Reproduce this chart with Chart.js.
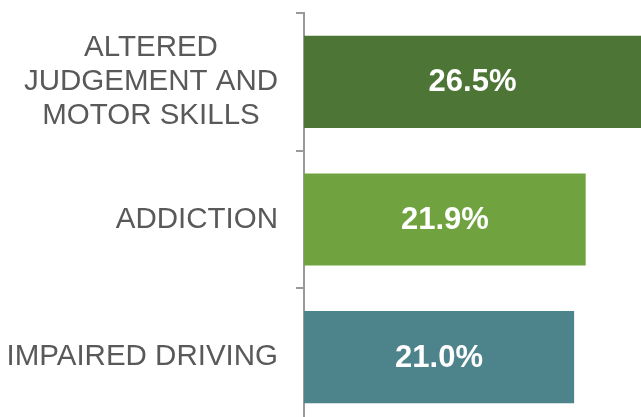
<!DOCTYPE html>
<html>
<head>
<meta charset="utf-8">
<script src="https://cdn.jsdelivr.net/npm/chart.js@4"></script>
<style>
  html, body { margin: 0; padding: 0; background: #fff; overflow: hidden; }
  #wrap { width: 641px; height: 426px; position: relative; }
</style>
</head>
<body>
<div id="wrap"><canvas id="chart"></canvas></div>
<script>
// Data
const categories = [['ALTERED', 'JUDGEMENT AND', 'MOTOR SKILLS'], ['ADDICTION'], ['IMPAIRED DRIVING']];
const values = [26.5, 21.9, 21.0];
const barColors = ['#4c7536', '#70a33f', '#4d848c'];

const FONT = '"Liberation Sans", Arial, sans-serif';

// Draws the category labels (centered lines, right-aligned block) and the values inside bars
const labelPlugin = {
  id: 'labelPlugin',
  afterDatasetsDraw(chart) {
    const ctx = chart.ctx;
    const yScale = chart.scales.y;
    ctx.save();
    ctx.textBaseline = 'middle';
    ctx.textAlign = 'center';

    ctx.font = '29.5px ' + FONT;
    ctx.fillStyle = '#595959';
    categories.forEach((lines, i) => {
      const block = Math.max(...lines.map(l => ctx.measureText(l).width));
      const cx = yScale.right - 26 - block / 2;
      const cy = yScale.getPixelForTick(i);
      lines.forEach((l, j) => {
        ctx.fillText(l, cx, cy + (j - (lines.length - 1) / 2) * 34);
      });
    });

    ctx.font = 'bold 31px ' + FONT;
    ctx.fillStyle = '#ffffff';
    const meta = chart.getDatasetMeta(0);
    meta.data.forEach((bar, i) => {
      const p = bar.getProps(['x', 'y', 'base'], true);
      const right = Math.min(p.x, chart.chartArea.right);
      ctx.fillText(values[i].toFixed(1) + '%', (p.base + right) / 2, p.y + 1);
    });
    ctx.restore();
  }
};

new Chart(document.getElementById('chart').getContext('2d'), {
  type: 'bar',
  data: {
    labels: categories,
    datasets: [{
      data: values,
      backgroundColor: barColors,
      borderWidth: 0,
      barPercentage: 0.67,
      categoryPercentage: 1
    }]
  },
  options: {
    indexAxis: 'y',
    responsive: true,
    maintainAspectRatio: false,
    animation: false,
    layout: { padding: { top: 13, right: 0, bottom: 0, left: 0 } },
    plugins: {
      legend: { display: false },
      tooltip: { enabled: false }
    },
    scales: {
      x: {
        display: false,
        min: 0,
        max: 26.2
      },
      y: {
        grid: {
          drawOnChartArea: false,
          drawTicks: true,
          tickLength: 8,
          color: '#999999',
          lineWidth: 2,
          offset: true
        },
        border: { color: '#999999', width: 2 },
        ticks: { color: 'rgba(0,0,0,0)', font: { size: 1, family: FONT }, padding: 0 },
        afterFit(scale) {
          scale.width = 304;
          scale.paddingTop = 0;
          scale.paddingBottom = 0;
        }
      }
    }
  },
  plugins: [labelPlugin]
});
</script>
</body>
</html>
